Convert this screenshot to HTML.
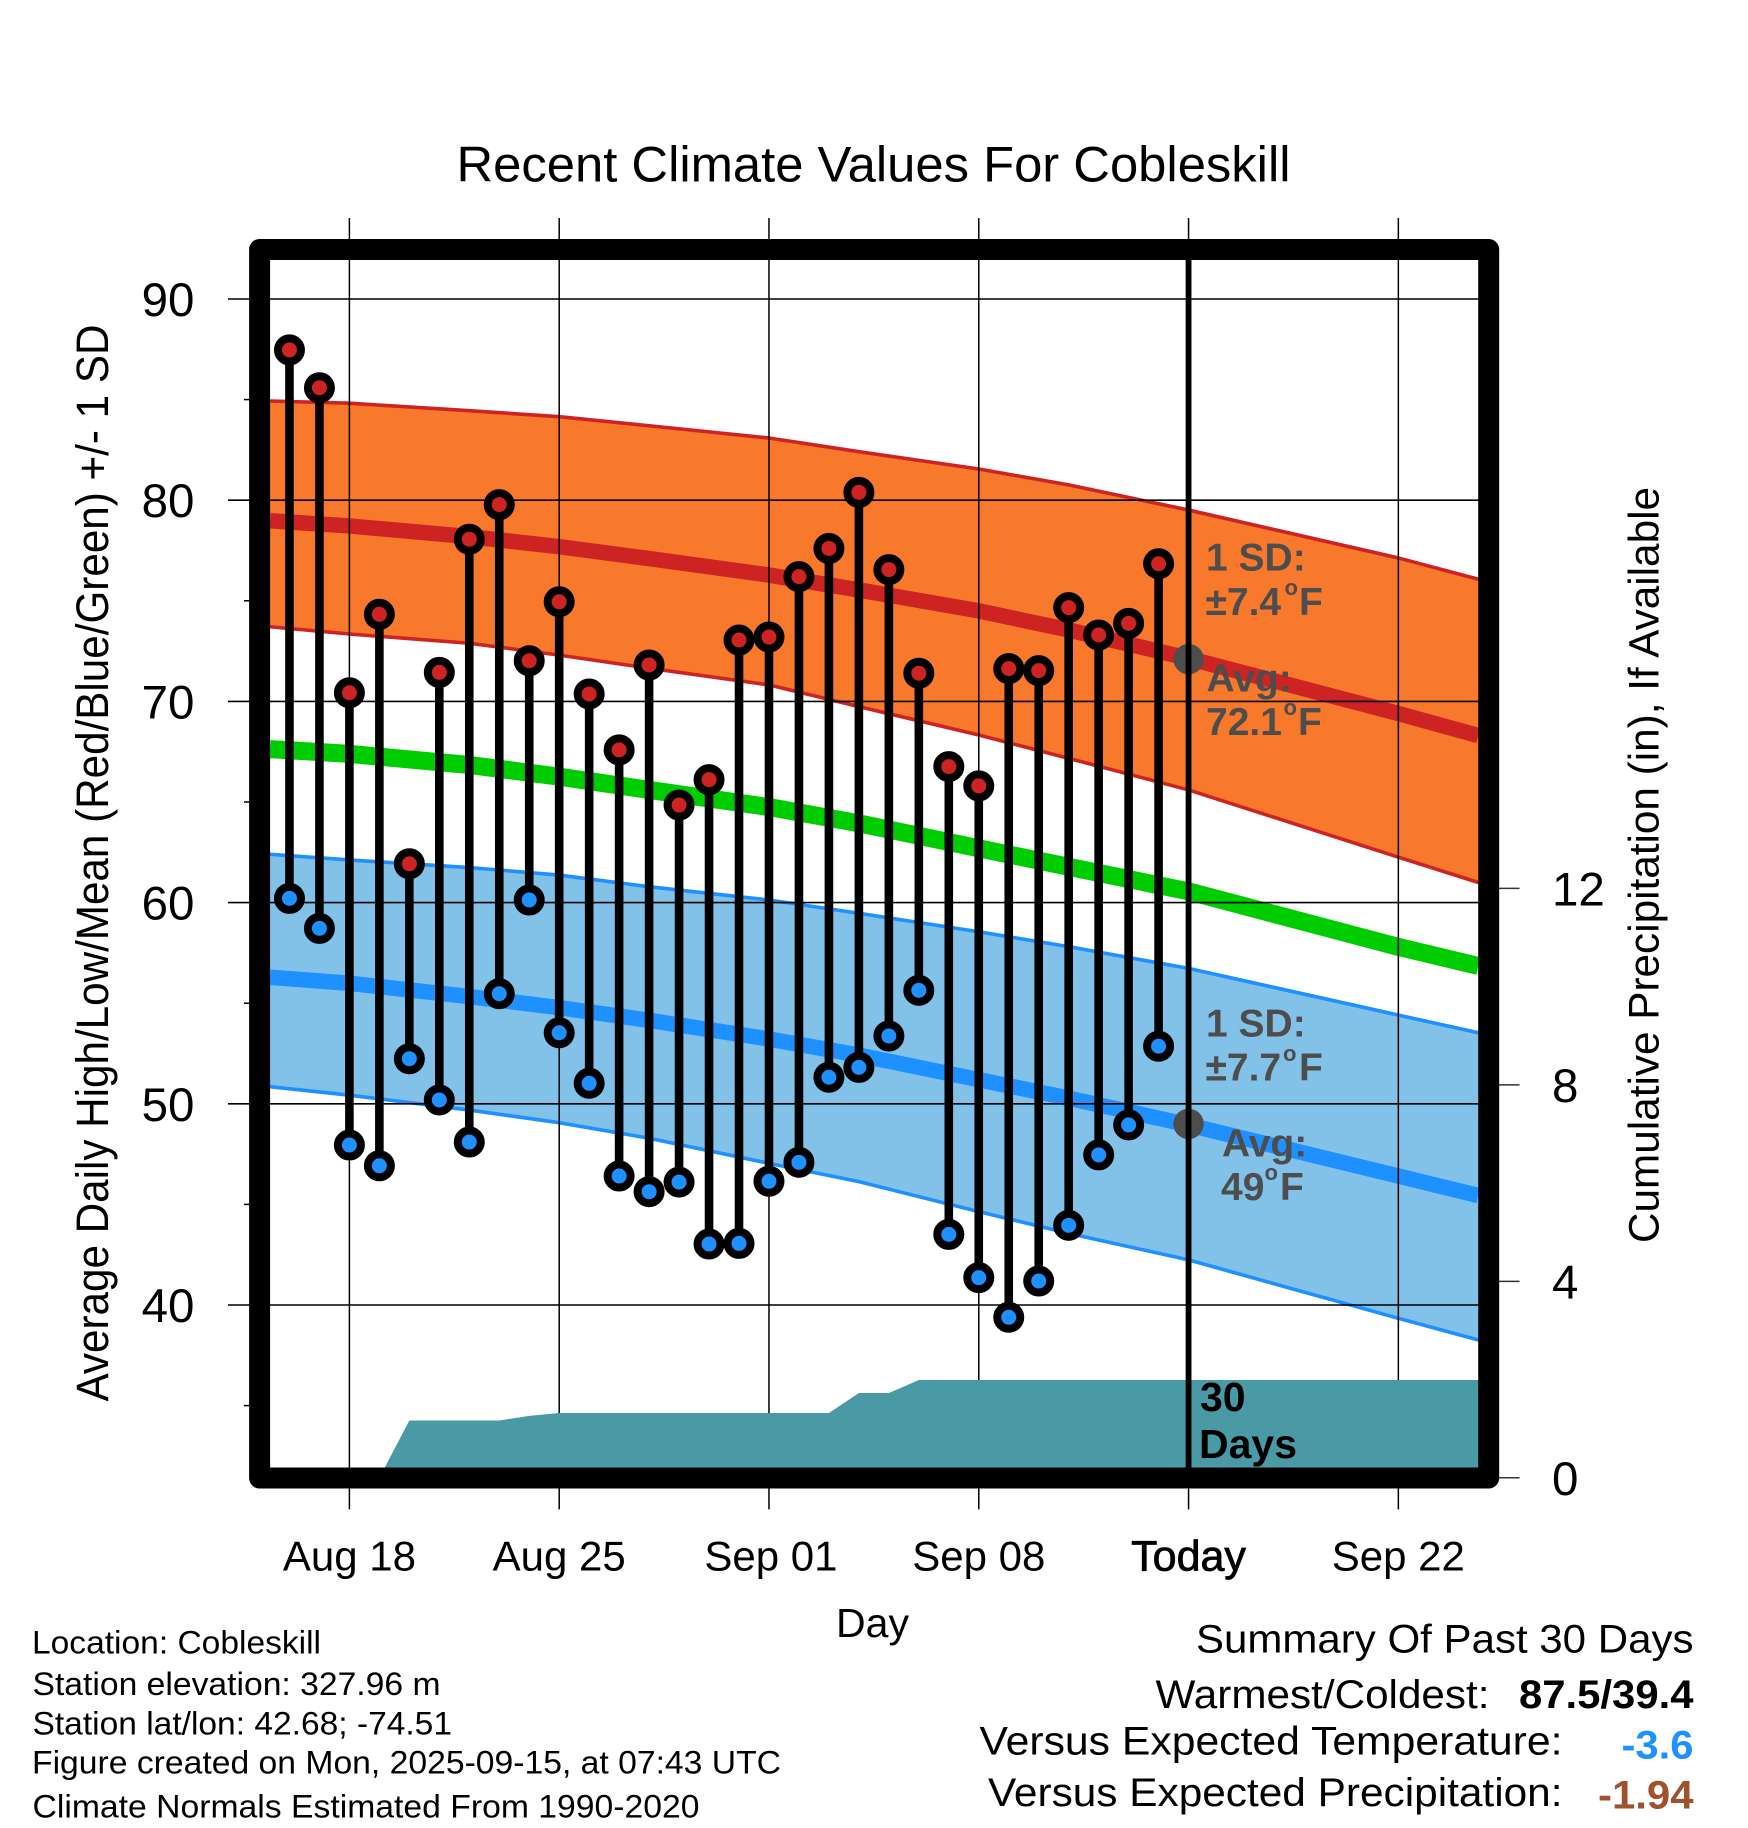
<!DOCTYPE html>
<html lang="en">
<head>
<meta charset="utf-8">
<title>Recent Climate Values For Cobleskill</title>
<style>
html,body{margin:0;padding:0;background:#fff;}
svg{display:block;}
text{font-family:"Liberation Sans",Arial,sans-serif;fill:#000;}
.ann{font-weight:bold;fill:#4d4d4d;font-size:39px;}
.ann tspan.deg{font-size:22px;}
.info{font-size:32.5px;}
.sum{font-size:40px;}
</style>
</head>
<body>
<svg id="chart" xmlns="http://www.w3.org/2000/svg" width="1748" height="1828" viewBox="0 0 1748 1828">
  <rect x="0" y="0" width="1748" height="1828" fill="#ffffff"/>
  <defs><clipPath id="plotClip"><rect x="259.5" y="249.5" width="1229" height="1228.5"/></clipPath></defs>
  <g id="bands" clip-path="url(#plotClip)"></g>
  <g id="means" clip-path="url(#plotClip)"></g>
  <g id="grid"></g>
  <g id="precip" clip-path="url(#plotClip)"></g>
  <g id="marks"></g>
  <g id="today"></g>

  <text class="ann"><tspan x="1206" y="570.7">1 SD:</tspan></text>
  <text class="ann"><tspan x="1205.5" y="615">±7.4</tspan><tspan class="deg" x="1284.5" y="595">o</tspan><tspan x="1299" y="615">F</tspan></text>
  <text class="ann"><tspan x="1206.5" y="691.7">Avg:</tspan></text>
  <text class="ann"><tspan x="1206" y="735">72.1</tspan><tspan class="deg" x="1283.5" y="715">o</tspan><tspan x="1298" y="735">F</tspan></text>
  <text class="ann"><tspan x="1206" y="1036.7">1 SD:</tspan></text>
  <text class="ann"><tspan x="1205.5" y="1080.7">±7.7</tspan><tspan class="deg" x="1283" y="1061">o</tspan><tspan x="1299" y="1080.7">F</tspan></text>
  <text class="ann"><tspan x="1222" y="1156.7">Avg:</tspan></text>
  <text class="ann"><tspan x="1221" y="1200">49</tspan><tspan class="deg" x="1264.5" y="1180">o</tspan><tspan x="1280" y="1200">F</tspan></text>
  <text x="1200" y="1411" font-weight="bold" font-size="41">30</text>
  <text x="1199" y="1458" font-weight="bold" font-size="41">Days</text>

  <rect x="259.6" y="249.5" width="1229.1" height="1228.5" fill="none" stroke="#000" stroke-width="21" stroke-linejoin="round"/>
  <g id="ticks"></g>

  <text x="456.5" y="181.7" font-size="50" textLength="834" lengthAdjust="spacingAndGlyphs">Recent Climate Values For Cobleskill</text>
  <text transform="translate(108,1401.5) rotate(-90)" x="0" y="0" font-size="45" textLength="1077" lengthAdjust="spacingAndGlyphs">Average Daily High/Low/Mean (Red/Blue/Green) +/- 1 SD</text>
  <text transform="translate(1658.5,1243) rotate(-90)" x="0" y="0" font-size="43" textLength="756" lengthAdjust="spacingAndGlyphs">Cumulative Precipitation (in), If Available</text>
  <text x="872.5" y="1637" font-size="41" text-anchor="middle">Day</text>

  <text class="info" x="32" y="1653.5" textLength="289" lengthAdjust="spacingAndGlyphs">Location: Cobleskill</text>
  <text class="info" x="32.5" y="1695" textLength="408" lengthAdjust="spacingAndGlyphs">Station elevation: 327.96 m</text>
  <text class="info" x="32.5" y="1734.3" textLength="419.5" lengthAdjust="spacingAndGlyphs">Station lat/lon: 42.68; -74.51</text>
  <text class="info" x="32" y="1773.7" textLength="749" lengthAdjust="spacingAndGlyphs">Figure created on Mon, 2025-09-15, at 07:43 UTC</text>
  <text class="info" x="32.5" y="1817.5" textLength="667" lengthAdjust="spacingAndGlyphs">Climate Normals Estimated From 1990-2020</text>

  <text class="sum" x="1196" y="1652.5" textLength="497.5" lengthAdjust="spacingAndGlyphs">Summary Of Past 30 Days</text>
  <text class="sum" x="1155.5" y="1708" textLength="334" lengthAdjust="spacingAndGlyphs">Warmest/Coldest:</text>
  <text class="sum" x="1519" y="1708" font-weight="bold" textLength="174.5" lengthAdjust="spacingAndGlyphs">87.5/39.4</text>
  <text class="sum" x="979.5" y="1754.5" textLength="583" lengthAdjust="spacingAndGlyphs">Versus Expected Temperature:</text>
  <text class="sum" x="1621.5" y="1758.6" font-weight="bold" style="fill:#1e90ff" textLength="72" lengthAdjust="spacingAndGlyphs">-3.6</text>
  <text class="sum" x="988" y="1806" textLength="574.5" lengthAdjust="spacingAndGlyphs">Versus Expected Precipitation:</text>
  <text class="sum" x="1598" y="1808.4" font-weight="bold" style="fill:#a0522d" textLength="95.5" lengthAdjust="spacingAndGlyphs">-1.94</text>
</svg>
<script>
// Days are offsets from Aug 18.
const obsDays = [-2,-1,0,1,2,3,4,5,6,7,8,9,10,11,12,13,14,15,16,17,18,19,20,21,22,23,24,25,26,27];
const highs = [87.47,85.59,70.43,74.33,61.93,71.44,78.06,79.78,72.02,74.95,70.37,67.59,71.81,64.85,66.11,73.05,73.2,76.2,77.6,80.39,76.55,71.4,66.76,65.8,71.63,71.53,74.66,73.3,73.88,76.84];
const lows = [60.21,58.72,47.95,46.92,52.24,50.19,48.1,55.47,60.13,53.53,51.02,46.41,45.63,46.11,43.03,43.06,46.15,47.09,51.32,51.81,53.37,55.64,43.51,41.36,39.39,41.19,43.96,47.46,48.95,52.86];

const normalDays = [-2.65,0,4,7,10,14,17,21,24,28,35,37.67];
const highUpper = [84.93,84.82,84.45,84.15,83.7,83.09,82.41,81.55,80.76,79.51,77.13,76.07];
const highMean = [78.98,78.72,78.19,77.69,77.1,76.28,75.54,74.5,73.55,72.14,69.4,68.3];
const highLower = [73.71,73.35,72.89,72.3,71.65,70.82,69.74,68.33,67.17,65.6,62.26,61.0];
const overallMean = [67.63,67.39,66.84,66.26,65.6,64.75,63.94,62.7,61.78,60.56,57.8,56.85];
const lowUpper = [62.4,62.12,61.74,61.37,60.79,60.13,59.47,58.55,57.81,56.73,54.41,53.53];
const lowMean = [56.29,55.99,55.33,54.78,54.15,53.22,52.42,51.2,50.28,48.95,46.41,45.44];
const lowLower = [50.85,50.43,49.69,49.06,48.29,47.04,46.13,44.64,43.56,42.24,39.34,38.26];

const precipDays = [-3,1,2,5,6,7,16,17,18,19,38];
const precipValues = [0,0,1.167,1.167,1.26,1.32,1.32,1.726,1.726,1.99,1.99];

const xTickDays = [0,7,14,21,28,35];
const xTickLabels = ["Aug 18","Aug 25","Sep 01","Sep 08","Today","Sep 22"];
const yTickValues = [40,50,60,70,80,90];
const yMinorValues = [35,45,55,65,75,85];
const precipTickValues = [0,4,8,12];
const todayDay = 28;
const todayHighMean = 72.1;
const todayLowMean = 49;

function xScale(d){ return 349.4 + 29.97 * d; }
function yScale(v){ return 299 + (90 - v) * 20.12; }
function pScale(p){ return 1477.8 - 49.12 * p; }

const SVGNS = "http://www.w3.org/2000/svg";
function mk(tag, attrs, parent){
  const el = document.createElementNS(SVGNS, tag);
  for (const k in attrs) el.setAttribute(k, attrs[k]);
  parent.appendChild(el);
  return el;
}
function pts(days, vals){
  return days.map(function(d,i){ return xScale(d).toFixed(2)+","+yScale(vals[i]).toFixed(2); });
}
const bands = document.getElementById("bands");
const grid = document.getElementById("grid");
const means = document.getElementById("means");
const precip = document.getElementById("precip");
const marks = document.getElementById("marks");
const today = document.getElementById("today");
const ticks = document.getElementById("ticks");

// Bands
const highBand = mk("polygon",{points:pts(normalDays,highUpper).concat(pts(normalDays,highLower).reverse()).join(" "),fill:"#f8792b"},bands);


const lowBand = mk("polygon",{points:pts(normalDays,lowUpper).concat(pts(normalDays,lowLower).reverse()).join(" "),fill:"#82c1e8"},bands);


const highUpperLine = mk("polyline",{points:pts(normalDays,highUpper).join(" "),fill:"none",stroke:"#cd2323","stroke-width":3.6},bands);


const highLowerLine = mk("polyline",{points:pts(normalDays,highLower).join(" "),fill:"none",stroke:"#cd2323","stroke-width":3.6},bands);


const lowUpperLine = mk("polyline",{points:pts(normalDays,lowUpper).join(" "),fill:"none",stroke:"#1e90ff","stroke-width":3.6},bands);


const lowLowerLine = mk("polyline",{points:pts(normalDays,lowLower).join(" "),fill:"none",stroke:"#1e90ff","stroke-width":3.6},bands);



// Mean lines
const greenLine = mk("polyline",{points:pts(normalDays,overallMean).join(" "),fill:"none",stroke:"#00cd00","stroke-width":18},means);


const redLine = mk("polyline",{points:pts(normalDays,highMean).join(" "),fill:"none",stroke:"#cd2323","stroke-width":15.5},means);


const blueLine = mk("polyline",{points:pts(normalDays,lowMean).join(" "),fill:"none",stroke:"#1e90ff","stroke-width":15.5},means);



// Grid
xTickDays.forEach(function(d){
  const l = mk("line",{x1:xScale(d),x2:xScale(d),y1:218,y2:1509.4,stroke:"#000","stroke-width":1.5},grid);
  
  
});
yTickValues.forEach(function(v){
  const l = mk("line",{x1:228,x2:1488,y1:yScale(v),y2:yScale(v),stroke:"#000","stroke-width":1.6},grid);
  
  
});
yMinorValues.forEach(function(v){
  const l = mk("line",{x1:244,x2:252,y1:yScale(v),y2:yScale(v),stroke:"#000","stroke-width":1.5},grid);
  
  
});

// Precipitation
const precipPts = precipDays.map(function(d,i){ return xScale(d).toFixed(2)+","+pScale(precipValues[i]).toFixed(2); });
precipPts.push(xScale(38)+","+pScale(0));
precipPts.push(xScale(-3)+","+pScale(0));
const precipArea = mk("polygon",{points:precipPts.join(" "),fill:"#4a9aa5"},precip);



// Stems then markers
obsDays.forEach(function(d,i){
  const stem = mk("line",{x1:xScale(d),x2:xScale(d),y1:yScale(highs[i]),y2:yScale(lows[i]),stroke:"#000","stroke-width":8.6},marks);
  
  
  const hi = mk("circle",{cx:xScale(d),cy:yScale(highs[i]),r:11.5,fill:"#cd2323",stroke:"#000","stroke-width":8},marks);
  
  
  const lo = mk("circle",{cx:xScale(d),cy:yScale(lows[i]),r:11.5,fill:"#1e90ff",stroke:"#000","stroke-width":8},marks);
  
  
});

// Today marker
const dotHigh = mk("circle",{cx:xScale(todayDay),cy:yScale(todayHighMean),r:15.2,fill:"#4d4d4d"},today);


const dotLow = mk("circle",{cx:xScale(todayDay),cy:yScale(todayLowMean),r:15.2,fill:"#4d4d4d"},today);


const todayLine = mk("line",{x1:xScale(todayDay),x2:xScale(todayDay),y1:250,y2:1477,stroke:"#000","stroke-width":5.8},today);



// Tick labels
yTickValues.forEach(function(v){
  const t = mk("text",{x:168,y:yScale(v)+17,"font-size":47.5,"text-anchor":"middle"},ticks);
  
  
  t.textContent = String(v);
});
xTickDays.forEach(function(d,i){
  const isToday = d === todayDay;
  const t = mk("text",{x:xScale(d)+(d === 14 ? 2 : 0),y:1570.4,"font-size":isToday ? 43 : 42},ticks);
  t.setAttribute('text-anchor', 'middle');
  if (isToday) { t.setAttribute('stroke', '#000'); t.setAttribute('stroke-width', '0.8'); }
  
  
  t.textContent = xTickLabels[i];
});
precipTickValues.forEach(function(p){
  const l = mk("line",{x1:1499,x2:1519.5,y1:pScale(p),y2:pScale(p),stroke:"#333","stroke-width":1.5},ticks);
  
  
  const t = mk("text",{x:1552,y:pScale(p)+17,"font-size":47.5},ticks);
  
  
  t.textContent = String(p);
});
</script>
</body>
</html>
